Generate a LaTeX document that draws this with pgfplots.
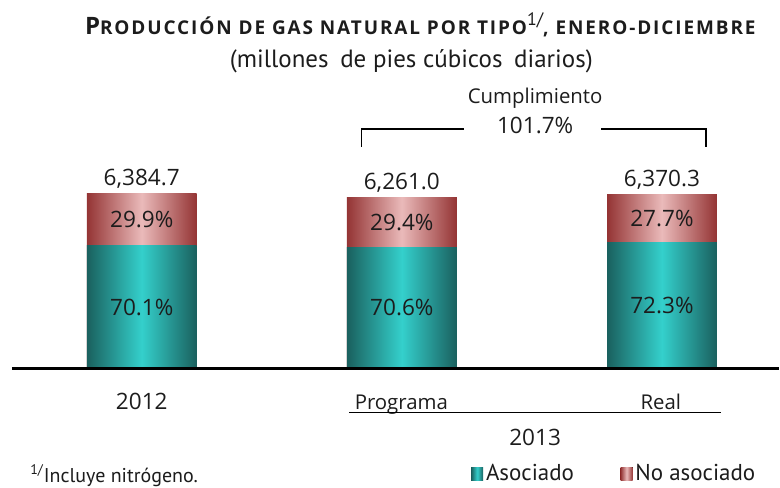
\documentclass[border=0pt]{standalone}
\usepackage{fontspec}
\setmainfont{Open Sans}
\newfontfamily\condfont{PT Sans}
\newfontfamily\titlefont[LetterSpace=10]{Open Sans}
\usepackage{pgfplots}
\pgfplotsset{compat=1.18}

\definecolor{tealdark}{RGB}{26,96,94}
\definecolor{teallight}{RGB}{52,208,204}
\definecolor{rosedark}{RGB}{148,52,52}
\definecolor{roselight}{RGB}{234,186,186}
\definecolor{txt}{RGB}{28,28,28}
\tikzset{
  tealbar/.style={draw=none, left color=tealdark, right color=tealdark, middle color=teallight},
  rosebar/.style={draw=none, left color=rosedark, right color=rosedark, middle color=roselight},
}

% fake small caps for the title
\newcommand{\fsc}[2]{{\fontsize{12bp}{12bp}\selectfont #1}{\fontsize{9.5bp}{10bp}\selectfont #2}}

\begin{document}
\begin{tikzpicture}
\begin{axis}[
  scale only axis, width=390bp, height=244bp,
  xmin=-0.545, xmax=2.449, ymin=-4341, ymax=13462,
  hide axis, clip=false,
  ybar=0pt, bar width=0.4223, bar shift=0pt,
  legend columns=2,
  legend image code/.code={\fill[#1] (0bp,-3.3bp) rectangle (6bp,3.3bp);},
  legend style={draw=none, fill=none, inner sep=0pt, outer sep=0pt,
    at={(axis cs:1.2668,-3849)}, anchor=west,
    font=\condfont\fontsize{11.5bp}{12bp}\selectfont, text=txt,
    nodes={inner sep=1.4bp},
    /tikz/every even column/.append style={column sep=22bp}},
]
\addlegendimage{tealbar}
\addlegendentry{Asociado}
\addlegendimage{rosebar}
\addlegendentry{No asociado}

% totals (no asociado on top), then asociado drawn over them
\addplot[rosebar, forget plot] coordinates {(0,6384.7)};
\addplot[rosebar, forget plot] coordinates {(1,6261.0)};
\addplot[rosebar, forget plot] coordinates {(2,6370.3)};
\addplot[tealbar, forget plot] coordinates {(0,4475.7)};
\addplot[tealbar, forget plot] coordinates {(1,4420.3)};
\addplot[tealbar, forget plot] coordinates {(2,4605.7)};

\path (rel axis cs:0,0) rectangle (rel axis cs:1,1);

% baseline
\draw[line width=1.3bp, black] (axis cs:-0.499,0) -- (axis cs:2.449,0);

% segment and total labels
\begin{scope}[font=\fontsize{11.3bp}{13bp}\selectfont, text=txt]
\node at (axis cs:0,2238) {70.1\%};
\node at (axis cs:0,5430) {29.9\%};
\node at (axis cs:1,2210) {70.6\%};
\node at (axis cs:1,5341) {29.4\%};
\node at (axis cs:2,2303) {72.3\%};
\node at (axis cs:2,5488) {27.7\%};
\node[anchor=base, yshift=4bp, inner sep=0] at (axis cs:0,6384.7) {6,384.7};
\node[anchor=base, yshift=4bp, inner sep=0] at (axis cs:1,6261.0) {6,261.0};
\node[anchor=base, yshift=4bp, inner sep=0] at (axis cs:2,6370.3) {6,370.3};
\node[anchor=base, inner sep=0] at (axis cs:1.5125,8573) {101.7\%};
\node[anchor=base, inner sep=0] at (axis cs:0,-1496) {2012};
\node[anchor=base, inner sep=0] at (axis cs:1.5125,-2809) {2013};
\end{scope}
\begin{scope}[font=\fontsize{10.2bp}{12bp}\selectfont, text=txt]
\node[anchor=base, inner sep=0] at (axis cs:1.5125,9667) {Cumplimiento};
\node[anchor=base, inner sep=0] at (axis cs:0.998,-1496) {Programa};
\node[anchor=base, inner sep=0] at (axis cs:1.996,-1496) {Real};
\end{scope}

% cumplimiento bracket
\draw[line width=0.7bp, black] (axis cs:0.8445,8099) -- (axis cs:0.8445,8755) -- (axis cs:1.2399,8755);
\draw[line width=0.7bp, black] (axis cs:1.7658,8755) -- (axis cs:2.1689,8755) -- (axis cs:2.1689,8099);
% 2013 underline
\draw[line width=0.6bp, black] (axis cs:0.7985,-1605) -- (axis cs:2.2265,-1605);

% titles
\node[anchor=base, inner sep=0, text=txt, font=\titlefont\bfseries] at (axis cs:1.0710,12184)
  {\fsc{P}{RODUCCIÓN DE GAS NATURAL POR TIPO}\raisebox{4.8bp}{\condfont\mdseries\fontsize{9bp}{9bp}\selectfont 1/}\fsc{}{, ENERO-DICIEMBRE}};
\node[anchor=base, inner sep=0, text=txt, font=\condfont\fontsize{12.5bp}{14bp}\selectfont] at (axis cs:1.0365,10980)
  {(millones\hspace{2.5bp} de pies cúbicos\hspace{2.5bp} diarios)};
\node[anchor=base west, inner sep=0, text=txt, font=\condfont\fontsize{10bp}{12bp}\selectfont] at (axis cs:-0.43,-4159)
  {\textsuperscript{1/}Incluye nitrógeno.};
\end{axis}
\end{tikzpicture}
\end{document}
